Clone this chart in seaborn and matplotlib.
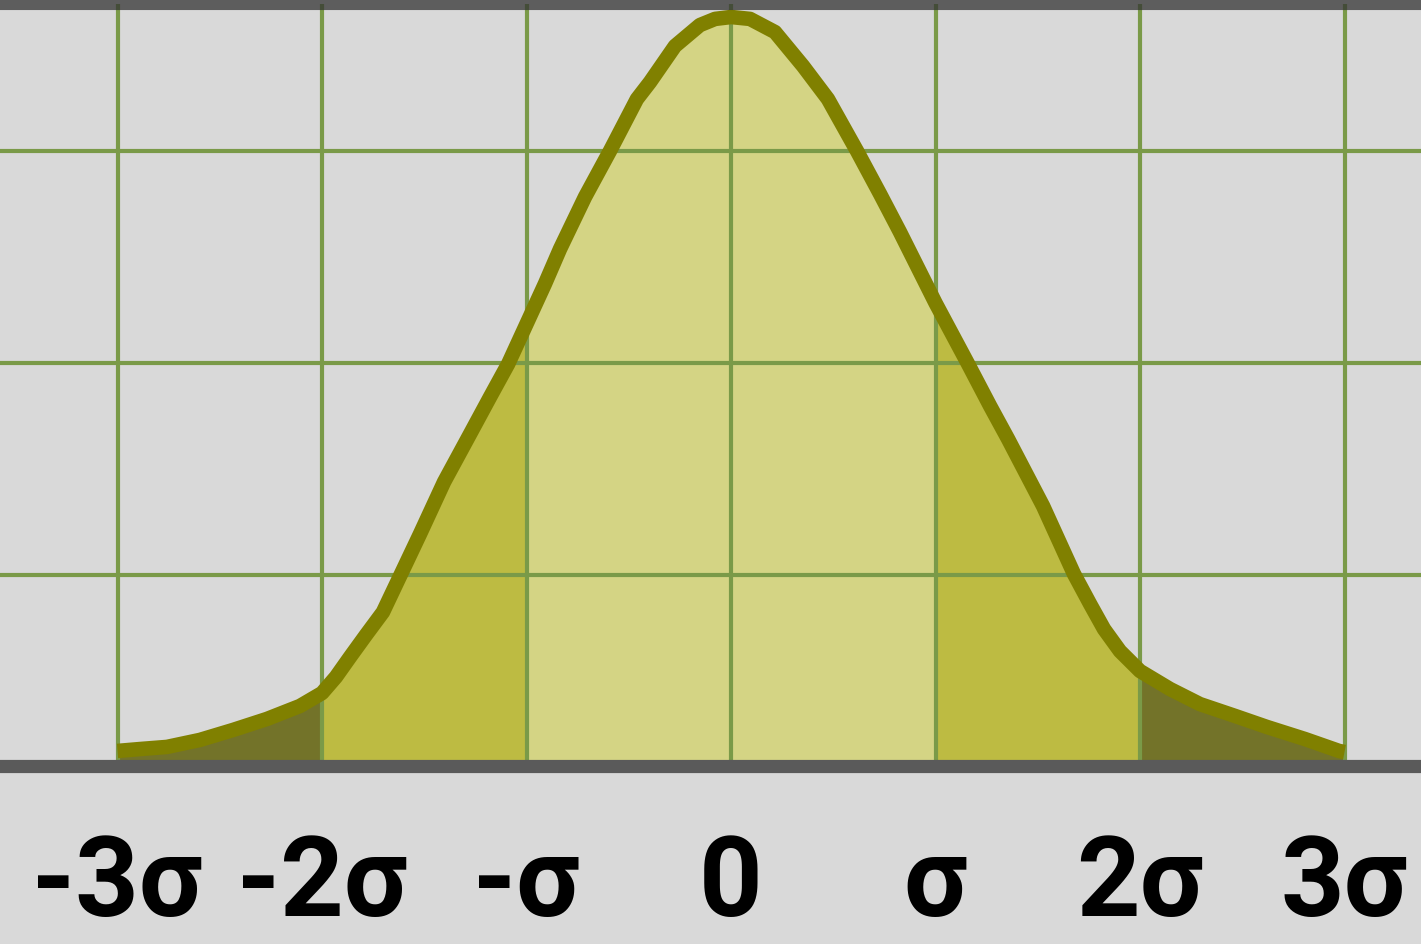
import numpy as np
import pandas as pd
import seaborn as sns
import matplotlib.pyplot as plt

# curve, x in sigma units, y in grid units
curve_x = [-3.0, -2.89, -2.758, -2.597, -2.435, -2.269, -2.108, -2.0, -1.932,
           -1.863, -1.785, -1.702, -1.609, -1.521, -1.403, -1.276, -1.178,
           -1.09, -1.0, -0.91, -0.836, -0.714, -0.592, -0.46, -0.396, -0.274,
           -0.152, -0.078, 0.0,
           0.093, 0.215, 0.352, 0.474, 0.616, 0.729, 0.826, 1.0, 1.154, 1.267,
           1.355, 1.526, 1.677, 1.756, 1.824, 1.902, 2.0, 2.147, 2.293, 2.465,
           2.621, 2.807, 2.973, 3.0]
curve_y = [0.071, 0.08, 0.09, 0.123, 0.17, 0.222, 0.283, 0.344, 0.42,
           0.514, 0.618, 0.726, 0.915, 1.094, 1.34, 1.566, 1.741,
           1.896, 2.085, 2.274, 2.439, 2.684, 2.901, 3.146, 3.226, 3.396,
           3.495, 3.524, 3.533,
           3.524, 3.462, 3.302, 3.146, 2.901, 2.698, 2.519, 2.184, 1.906, 1.698,
           1.542, 1.226, 0.906, 0.764, 0.646, 0.542, 0.448, 0.363, 0.292, 0.236,
           0.184, 0.127, 0.071, 0.066]

tick_pos = [-3, -2, -1, 0, 1, 2, 3]
tick_labels = ['-3σ', '-2σ', '-σ', '0', 'σ', '2σ', '3σ']
hgrid = [0.9, 1.9, 2.9]

# shaded bands: (start, end, colour)
bands = [(-3, -2, '#737329'), (-2, -1, '#bdbb42'), (-1, 1, '#d4d484'),
         (1, 2, '#bdbb42'), (2, 3, '#737329')]

df = pd.DataFrame({'x': curve_x, 'y': curve_y})

sns.set_style('white')
bg = '#d9d9d9'
fig = plt.figure(figsize=(14.21, 9.45), dpi=100, facecolor=bg)
ax = fig.add_axes([0, 0.18836, 1, 0.80582])
ax.set_facecolor(bg)

for a, b, col in bands:
    seg = df[(df.x >= a) & (df.x <= b)]
    ax.fill_between(seg.x, 0, seg.y, color=col, linewidth=0, zorder=1)

sns.lineplot(data=df, x='x', y='y', ax=ax, color='#808000', linewidth=10.5,
             estimator=None, sort=False, zorder=3)
ax.lines[-1].set_solid_capstyle('butt')
ax.lines[-1].set_solid_joinstyle('round')

ax.set_xlim(-3.5746, 3.374)
ax.set_ylim(0, 3.592)
ax.set_xticks(tick_pos)
ax.set_xticklabels(tick_labels)
ax.set_yticks(hgrid)
ax.set_yticklabels([])
ax.set_axisbelow(False)
ax.grid(True, color='#7a9a48', linewidth=3)
ax.tick_params(axis='both', length=0)
ax.tick_params(axis='x', pad=47)
for lab in ax.get_xticklabels():
    lab.set_family(['Roboto', 'DejaVu Sans'])
    lab.set_fontweight('bold')
    lab.set_fontsize(80)
    lab.set_color('black')
ax.set_xlabel('')
ax.set_ylabel('')

for side in ['left', 'right']:
    ax.spines[side].set_visible(False)
ax.spines['top'].set_color((0.2, 0.2, 0.2, 0.75))
ax.spines['top'].set_linewidth(8)
ax.spines['top'].set_zorder(4)
ax.spines['bottom'].set_color('#5a5a5a')
ax.spines['bottom'].set_linewidth(9.5)
ax.spines['bottom'].set_zorder(4)

fig.savefig('out.png', dpi=100, facecolor=bg)
